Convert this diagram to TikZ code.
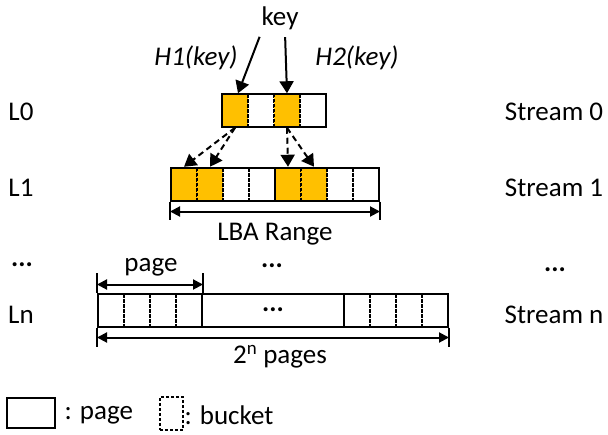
\documentclass[tikz,border=0pt]{standalone}
\usepackage{fontspec}
\setmainfont{Carlito}
\usetikzlibrary{arrows.meta}
\definecolor{keyfill}{HTML}{FFC000}

\begin{document}
\begin{tikzpicture}[x=1pt,y=-1pt,
	every node/.style={font=\fontsize{27}{32}\selectfont},
	bucket/.style={draw, dash pattern=on 3pt off 2pt, line width=1.5pt, minimum width=26pt, minimum height=33pt, inner sep=0pt},
	hit/.style={bucket, fill=keyfill},
	page/.style={draw, solid, line width=2pt, minimum width=104pt, minimum height=33pt, inner sep=0pt},
	hash/.style={-{Triangle[length=12pt,width=14pt]}, line width=2pt},
	probe/.style={hash, dash pattern=on 6pt off 4pt},
	tick/.style={line width=2pt},
	dim/.style={{Triangle[length=10pt,width=10pt]}-{Triangle[length=10pt,width=10pt]}, line width=2pt}]

	\useasboundingbox (0,0) rectangle (608,434);

	\node (l0) at (21,112) {L0};
	\node (l1) at (21,188) {L1};
	\node (ldots) at (22,265) {\textbf{...}};
	\node (ln) at (21,315) {Ln};
	\node (s0) at (554,112) {Stream 0};
	\node (s1) at (554,188) {Stream 1};
	\node (sdots) at (555,270) {\textbf{...}};
	\node (sn) at (554,315) {Stream n};

	\node (key) at (280,18) {key};
	\node (h1) at (196,57.5) {\textit{H1(key)}};
	\node (h2) at (357,57.5) {\textit{H2(key)}};

	% level 0: one page
	\node (b01) [hit] at (235,110.5) {};
	\node (b02) [bucket] at (261,110.5) {};
	\node (b03) [hit] at (287,110.5) {};
	\node (b04) [bucket] at (313,110.5) {};
	\node (p0) [page] at (274,110.5) {};

	% level 1: two pages
	\node (b11) [hit] at (184,184) {};
	\node (b12) [hit] at (210,184) {};
	\node (b13) [bucket] at (236,184) {};
	\node (b14) [bucket] at (262,184) {};
	\node (b15) [hit] at (288,184) {};
	\node (b16) [hit] at (314,184) {};
	\node (b17) [bucket] at (340,184) {};
	\node (b18) [bucket] at (366,184) {};
	\node (p11) [page] at (223,184) {};
	\node (p12) [page] at (327,184) {};

	% level n
	\node (bn1) [bucket] at (111,310) {};
	\node (bn2) [bucket] at (137,310) {};
	\node (bn3) [bucket] at (163,310) {};
	\node (bn4) [bucket] at (189,310) {};
	\node (bn5) [bucket] at (357,310) {};
	\node (bn6) [bucket] at (383,310) {};
	\node (bn7) [bucket] at (409,310) {};
	\node (bn8) [bucket] at (435,310) {};
	\node (pn1) [page] at (150,310) {};
	\node (pnm) [page, minimum width=142pt] at (273,310) {\textbf{...}};
	\node (pn2) [page] at (396,310) {};
	\node (mdots) at (272,266) {\textbf{...}};

	\draw [hash, shorten <=4pt] ([xshift=3pt]key.south west) -- ([xshift=3pt]b01.north);
	\draw [hash, shorten <=4pt] ([xshift=5pt]key.south) -- (b03.north);

	\draw [probe] (b01.south) -- (b11.north);
	\draw [probe] (b01.south) -- (b12.north);
	\draw [probe] (b03.south) -- (b15.north);
	\draw [probe] (b03.south) -- (b16.north);

	% LBA range
	\draw [tick] (p11.south west) -- ++(0,18);
	\draw [tick] (p12.south east) -- ++(0,18);
	\draw [dim] ([yshift=-10pt]p11.south west) -- ([yshift=-10pt]p12.south east);
	\node (lba) at (275,234) {LBA Range};

	% one page
	\draw [tick] (pn1.north west) -- ++(0,-20);
	\draw [tick] (pn1.north east) -- ++(0,-20);
	\draw [dim] ([yshift=8pt]pn1.north west) -- ([yshift=8pt]pn1.north east);
	\node (pagelbl) at (151,267) {page};

	% whole level n
	\draw [tick] (pn1.south west) -- ++(0,19);
	\draw [tick] (pn2.south east) -- ++(0,19);
	\draw [dim] ([yshift=-10pt]pn1.south west) -- ([yshift=-10pt]pn2.south east);
	\node (npages) at (280,357) {2\textsuperscript{n} pages};

	% legend
	\node (legpage) [page, minimum width=48pt, minimum height=30pt] at (31,413) {};
	\node (legpagetxt) [anchor=west] at (61,415) {: page};
	\node (legbucket) [bucket, minimum width=23pt] at (171.5,413.5) {};
	\node (legbuckettxt) [anchor=west] at (181,415) {: bucket};

\normalsize

\end{tikzpicture}
\end{document}
